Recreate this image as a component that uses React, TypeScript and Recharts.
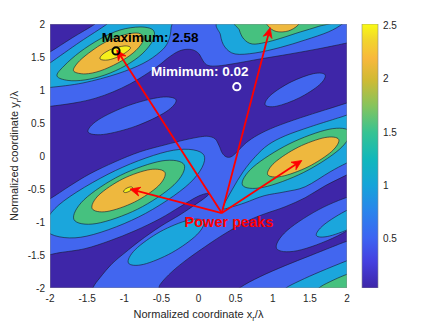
import React from "react";
import { ComposedChart, BarChart, Bar, Scatter, XAxis, YAxis } from "recharts";

type Pair = [number, number];

const font = '"Liberation Sans", Arial, Helvetica, sans-serif';

const axisTicks = [-2, -1.5, -1, -0.5, 0, 0.5, 1, 1.5, 2];
const colorTicks = [0.5, 1, 1.5, 2, 2.5];
const colorRange: Pair = [0.04, 2.51];

const levelFill = {
  floor: "#3e26a8",
  half: "#4266ef",
  one: "#1ba6dc",
  oneHalf: "#46c17f",
  two: "#eeb83e",
  twoHalf: "#f6ef1c",
};

const parulaStops: Pair[] = [
  [0, 0], [0.1, 1], [0.19, 2], [0.29, 3], [0.39, 4], [0.49, 5],
  [0.59, 6], [0.69, 7], [0.79, 8], [0.87, 9], [0.94, 10], [1, 11],
];
const parulaColors = [
  "#3e26a8", "#4640e0", "#3d64f2", "#2a84ec", "#15a4d9", "#11b8bb",
  "#38c392", "#86c45d", "#d1ba34", "#f8b83c", "#f2d52c", "#f9fa14",
];

// contour outlines (normalized coordinates x, y)
const frame: Pair[] = [[-2, -2], [2, -2], [2, 2], [-2, 2]];

// level 0.5
const halfTop: Pair[] = [
  [-2.202, 1.455], [-2, 1.576], [-1.704, 1.788], [-1.394, 2], [-1.259, 2.136], [2.178, 2.136],
  [2.178, 1.758], [2.003, 1.713], [1.639, 1.629], [1.235, 1.546], [0.83, 1.47], [0.493, 1.402],
  [0.264, 1.365], [0.129, 1.372], [0.062, 1.44], [0.008, 1.546], [-0.073, 1.607], [-0.181, 1.614],
  [-0.288, 1.576], [-0.41, 1.486], [-0.544, 1.365], [-0.72, 1.228], [-0.922, 1.092], [-1.151, 0.971],
  [-1.394, 0.873], [-1.663, 0.805], [-2, 0.752], [-2.202, 0.729],
];
const halfCenter: Pair[] = [
  [-2.202, -0.753], [-2, -0.648], [-1.73, -0.451], [-1.461, -0.269], [-1.124, -0.088], [-0.787, 0.064],
  [-0.45, 0.169], [-0.181, 0.245], [0.022, 0.29], [0.129, 0.298], [0.224, 0.26], [0.278, 0.154],
  [0.318, 0.048], [0.372, -0.012], [0.439, -0.012], [0.52, 0.064], [0.642, 0.2], [0.803, 0.321],
  [1.032, 0.442], [1.369, 0.578], [1.706, 0.699], [2.003, 0.805], [2.313, 0.926], [2.447, 0.699],
  [2.447, -0.057], [2.245, -0.148], [2.003, -0.284], [1.706, -0.451], [1.437, -0.632], [1.167, -0.769],
  [0.898, -0.874], [0.695, -0.965], [0.493, -1.086], [0.291, -1.222], [0.089, -1.374], [-0.14, -1.555],
  [-0.356, -1.752], [-0.518, -1.949], [-0.625, -2.176], [-1.461, -2.176], [-1.42, -1.994], [-1.326, -1.843],
  [-1.164, -1.631], [-0.989, -1.464], [-0.787, -1.283], [-0.518, -1.071], [-0.248, -0.89], [-0.046, -0.738],
  [0.089, -0.632], [0.143, -0.564], [-0.005, -0.61], [-0.248, -0.769], [-0.518, -0.95], [-0.854, -1.132],
  [-1.191, -1.283], [-1.528, -1.404], [-1.865, -1.464], [-2, -1.495], [-2.202, -1.54],
];
const halfIsleLeft: Pair[] = [
  [-0.302, 0.85], [-0.439, 0.669], [-0.844, 0.452], [-1.278, 0.327],
  [-1.488, 0.366], [-1.35, 0.548], [-0.946, 0.764], [-0.511, 0.89],
];
const halfIsleRight: Pair[] = [
  [1.706, 1.228], [1.627, 1.076], [1.356, 0.88], [1.054, 0.755],
  [0.898, 0.775], [0.977, 0.927], [1.248, 1.123], [1.55, 1.248],
];
const halfLowRight: Pair[] = [
  [2.498, -0.59], [2.354, -0.862], [1.87, -1.212], [1.33, -1.435],
  [1.051, -1.4], [1.194, -1.128], [1.678, -0.778], [2.217, -0.555],
];
const halfCorner: Pair[] = [
  [0.399, -2.176], [0.561, -1.994], [0.83, -1.828], [1.167, -1.661], [1.504, -1.51],
  [1.841, -1.359], [2.003, -1.29], [2.38, -1.147], [2.582, -2.327],
];

// level 1.0
const oneTopLeft: Pair[] = [
  [-2.202, 1.259], [-2, 1.41], [-1.596, 1.728], [-1.232, 2], [-1.057, 2.182], [-0.383, 2.182],
  [-0.369, 1.94], [-0.41, 1.728], [-0.518, 1.576], [-0.747, 1.402], [-1.097, 1.244], [-1.555, 1.107],
  [-2, 1.039], [-2.202, 1.032],
];
const oneTopRight: Pair[] = [
  [0.3, 2.061], [0.296, 1.834], [0.355, 1.652], [0.493, 1.546], [0.763, 1.561], [1.1, 1.644],
  [1.437, 1.758], [1.747, 1.879], [1.935, 2], [2.043, 2.136], [1.1, 2.242],
];
const oneMidLeft: Pair[] = [
  [0.075, 0.009], [-0.118, -0.411], [-0.806, -0.924], [-1.585, -1.231],
  [-2.05, -1.13], [-1.88, -0.74], [-1.118, -0.22], [-0.339, 0.087],
];
const oneMidRight: Pair[] = [
  [0.332, -0.784], [0.453, -0.511], [0.601, -0.239], [0.763, -0.012], [0.938, 0.169], [1.167, 0.306],
  [1.504, 0.442], [1.841, 0.563], [2.003, 0.623], [2.38, 0.79], [2.447, 0.472], [2.38, 0.094],
  [2.003, -0.103], [1.774, -0.239], [1.437, -0.466], [1.167, -0.542], [0.884, -0.602], [0.628, -0.708],
  [0.453, -0.769],
];
const oneLowLeft: Pair[] = [
  [0.07, -0.99], [-0.023, -1.195], [-0.359, -1.465], [-0.74, -1.642],
  [-0.944, -1.622], [-0.851, -1.417], [-0.516, -1.147], [-0.134, -0.971],
];
const oneLowRight: Pair[] = [
  [2.552, -0.665], [2.449, -0.83], [2.124, -1.057], [1.767, -1.212],
  [1.588, -1.205], [1.691, -1.04], [2.016, -0.813], [2.373, -0.658],
];
const oneCorner: Pair[] = [
  [1.032, -2.176], [1.167, -2.009], [1.369, -1.888], [1.639, -1.752],
  [2.003, -1.585], [2.38, -1.419], [2.582, -2.478],
];

// level 1.5
const oneHalfTopLeft: Pair[] = [
  [-1.906, 1.213], [-1.757, 1.145], [-1.528, 1.153], [-1.259, 1.228], [-0.989, 1.365], [-0.76, 1.546],
  [-0.612, 1.758], [-0.612, 1.909], [-0.787, 1.955], [-1.057, 1.909], [-1.326, 1.773], [-1.596, 1.576],
  [-1.811, 1.365],
];
const oneHalfTopRight: Pair[] = [
  [0.53, 2.061], [0.55, 1.909], [0.61, 1.773], [0.722, 1.697], [0.898, 1.72],
  [1.1, 1.781], [1.369, 1.879], [1.612, 1.962], [1.841, 2.061], [1.235, 2.242],
];
const oneHalfMidLeft: Pair[] = [
  [-0.193, -0.134], [-0.33, -0.437], [-0.821, -0.806], [-1.379, -1.024],
  [-1.677, -0.964], [-1.54, -0.661], [-1.049, -0.292], [-0.491, -0.074],
];
const oneHalfMidRight: Pair[] = [
  [2.039, 0.37], [1.895, 0.098], [1.411, -0.252], [0.871, -0.475],
  [0.592, -0.44], [0.735, -0.168], [1.219, 0.182], [1.758, 0.405],
];
const oneHalfCorner: Pair[] = [
  [1.504, -2.176], [1.612, -2.009], [1.774, -1.903], [2.003, -1.79], [2.38, -1.631], [2.582, -2.478],
];

// level 2.0
const twoTopLeft: Pair[] = [
  [-1.677, 1.281], [-1.528, 1.244], [-1.326, 1.289], [-1.084, 1.41], [-0.881, 1.561], [-0.76, 1.713],
  [-0.747, 1.818], [-0.841, 1.864], [-1.057, 1.818], [-1.299, 1.697], [-1.528, 1.516], [-1.65, 1.38],
];
const twoTopRight: Pair[] = [
  [0.898, 2.091], [0.938, 1.97], [1.046, 1.887], [1.208, 1.894], [1.342, 1.985], [1.396, 2.121], [1.14, 2.212],
];
const twoMidLeft: Pair[] = [
  [-0.452, -0.249], [-0.541, -0.454], [-0.864, -0.699], [-1.233, -0.841],
  [-1.432, -0.797], [-1.343, -0.592], [-1.02, -0.347], [-0.651, -0.205],
];
const twoMidRight: Pair[] = [
  [1.888, 0.252], [1.794, 0.069], [1.476, -0.164], [1.119, -0.309],
  [0.932, -0.282], [1.026, -0.099], [1.344, 0.134], [1.701, 0.279],
];

// level 2.5
const twoHalfTopLeft: Pair[] = [
  [-1.326, 1.47], [-1.218, 1.455], [-1.057, 1.516], [-0.935, 1.607],
  [-0.922, 1.652], [-1.003, 1.667], [-1.164, 1.622], [-1.286, 1.546],
];
const twoHalfMidLeft: Pair[] = [
  [-0.889, -0.477], [-0.898, -0.506], [-0.937, -0.538], [-0.983, -0.554],
  [-1.009, -0.545], [-1.0, -0.516], [-0.961, -0.484], [-0.915, -0.468],
];

const maximumAt: Pair = [-1.111, 1.592];
const minimumAt: Pair = [0.516, 1.051];
const peakSource: Pair = [0.314, -0.864];
const peakTargets: Pair[] = [[-1.101, 1.607], [0.965, 1.944], [-0.922, -0.501], [1.392, -0.068]];

const notes = [
  { text: "Maximum: 2.58", at: [-0.652, 1.788] as Pair, color: "#000000", size: 13.5 },
  { text: "Mimimum: 0.02", at: [0.017, 1.274] as Pair, color: "#ffffff", size: 13.5 },
  { text: "Power peaks", at: [0.41, -0.995] as Pair, color: "#ff0000", size: 14.5 },
];

const layers = [
  { key: "h-top", outline: halfTop, fill: levelFill.half },
  { key: "h-center", outline: halfCenter, fill: levelFill.half },
  { key: "h-isle-l", outline: halfIsleLeft, fill: levelFill.half },
  { key: "h-isle-r", outline: halfIsleRight, fill: levelFill.half },
  { key: "h-low-r", outline: halfLowRight, fill: levelFill.half },
  { key: "h-corner", outline: halfCorner, fill: levelFill.half },
  { key: "o-top-l", outline: oneTopLeft, fill: levelFill.one },
  { key: "o-top-r", outline: oneTopRight, fill: levelFill.one },
  { key: "o-mid-l", outline: oneMidLeft, fill: levelFill.one },
  { key: "o-mid-r", outline: oneMidRight, fill: levelFill.one },
  { key: "o-low-l", outline: oneLowLeft, fill: levelFill.one },
  { key: "o-low-r", outline: oneLowRight, fill: levelFill.one },
  { key: "o-corner", outline: oneCorner, fill: levelFill.one },
  { key: "oh-top-l", outline: oneHalfTopLeft, fill: levelFill.oneHalf },
  { key: "oh-top-r", outline: oneHalfTopRight, fill: levelFill.oneHalf },
  { key: "oh-mid-l", outline: oneHalfMidLeft, fill: levelFill.oneHalf },
  { key: "oh-mid-r", outline: oneHalfMidRight, fill: levelFill.oneHalf },
  { key: "oh-corner", outline: oneHalfCorner, fill: levelFill.oneHalf },
  { key: "t-top-l", outline: twoTopLeft, fill: levelFill.two },
  { key: "t-top-r", outline: twoTopRight, fill: levelFill.two },
  { key: "t-mid-l", outline: twoMidLeft, fill: levelFill.two },
  { key: "t-mid-r", outline: twoMidRight, fill: levelFill.two },
  { key: "th-top-l", outline: twoHalfTopLeft, fill: levelFill.twoHalf },
  { key: "th-mid-l", outline: twoHalfMidLeft, fill: levelFill.twoHalf },
];

const toPoints = (list: Pair[]) => list.map(([x, y]) => ({ x, y }));

type XY = { x: number; y: number };

function smoothClosed(pts: XY[]) {
  const n = pts.length;
  let d = `M${pts[0].x},${pts[0].y}`;
  for (let i = 0; i < n; i++) {
    const p0 = pts[(i - 1 + n) % n];
    const p1 = pts[i];
    const p2 = pts[(i + 1) % n];
    const p3 = pts[(i + 2) % n];
    const c1x = p1.x + (p2.x - p0.x) / 6;
    const c1y = p1.y + (p2.y - p0.y) / 6;
    const c2x = p2.x - (p3.x - p1.x) / 6;
    const c2y = p2.y - (p3.y - p1.y) / 6;
    d += ` C${c1x},${c1y} ${c2x},${c2y} ${p2.x},${p2.y}`;
  }
  return d + " Z";
}

function straightClosed(pts: XY[]) {
  return pts.map((p, i) => `${i ? "L" : "M"}${p.x},${p.y}`).join(" ") + " Z";
}

const region = (fill: string, stroke: string, smooth: boolean, width = 0.6) => (props: any) => (
  <path
    d={smooth ? smoothClosed(props.points) : straightClosed(props.points)}
    fill={fill}
    stroke={stroke}
    strokeWidth={width}
  />
);

const noMark = () => <g />;

function arrow(props: any) {
  const [a, b] = props.points as XY[];
  const dx = b.x - a.x;
  const dy = b.y - a.y;
  const len = Math.hypot(dx, dy);
  const ux = dx / len;
  const uy = dy / len;
  const nx = -uy;
  const ny = ux;
  const hx = b.x - ux * 10;
  const hy = b.y - uy * 10;
  const kx = b.x - ux * 7;
  const ky = b.y - uy * 7;
  return (
    <g>
      <line x1={a.x} y1={a.y} x2={kx} y2={ky} stroke="#ff0000" strokeWidth={1.8} />
      <path
        d={`M${b.x},${b.y} L${hx + nx * 4.5},${hy + ny * 4.5} L${kx},${ky} L${hx - nx * 4.5},${hy - ny * 4.5} Z`}
        fill="#ff0000"
        stroke="#ff0000"
        strokeWidth={0.8}
      />
    </g>
  );
}

const ring = (color: string) => (p: any) => (
  <circle cx={p.cx} cy={p.cy} r={3.6} fill="none" stroke={color} strokeWidth={2} />
);

const note = (text: string, color: string, size: number) => (p: any) => (
  <text
    x={p.cx}
    y={p.cy}
    textAnchor="middle"
    dominantBaseline="central"
    fill={color}
    fontSize={size}
    fontWeight="bold"
    fontFamily={font}
  >
    {text}
  </text>
);

const tickStyle = { fontSize: 10, fill: "#262626", fontFamily: font };

const xTitle = (props: any) => {
  const vb = props.viewBox;
  return (
    <text x={vb.x + vb.width / 2} y={vb.y + 30} textAnchor="middle" fontSize={11} fill="#262626" fontFamily={font}>
      Normalized coordinate x<tspan dy={3} fontSize={8}>r</tspan>
      <tspan dy={-3}>/λ</tspan>
    </text>
  );
};

const yTitle = (props: any) => {
  const vb = props.viewBox;
  const cx = vb.x + 7.5;
  const cy = vb.y + vb.height / 2;
  return (
    <text
      x={cx}
      y={cy}
      transform={`rotate(-90, ${cx}, ${cy})`}
      textAnchor="middle"
      fontSize={11}
      fill="#262626"
      fontFamily={font}
    >
      Normalized coordinate y<tspan dy={3} fontSize={8}>r</tspan>
      <tspan dy={-3}>/λ</tspan>
    </text>
  );
};

const colorbarData = [{ name: "scale", span: colorRange }];

export default function App() {
  return (
    <div style={{ position: "absolute", left: 0, top: 0, width: 436, height: 327, background: "#fff" }}>
      <svg width={0} height={0} style={{ position: "absolute" }}>
        <defs>
          <linearGradient id="parulaScale" x1="0" y1="1" x2="0" y2="0">
            {parulaStops.map(([o, i]) => (
              <stop key={o} offset={o} stopColor={parulaColors[i]} />
            ))}
          </linearGradient>
        </defs>
      </svg>
      <div style={{ position: "absolute", left: 0, top: 0 }}>
        <ComposedChart width={436} height={327} margin={{ top: 24, right: 89, bottom: 9, left: 10 }}>
          <XAxis
            type="number"
            dataKey="x"
            domain={[-2, 2]}
            ticks={axisTicks}
            allowDataOverflow
            interval={0}
            tickLine={false}
            axisLine={false}
            tickSize={0}
            tickMargin={7}
            height={30}
            tick={tickStyle}
            label={xTitle}
          />
          <YAxis
            type="number"
            dataKey="y"
            domain={[-2, 2]}
            ticks={axisTicks}
            allowDataOverflow
            interval={0}
            tickLine={false}
            axisLine={false}
            tickSize={0}
            tickMargin={5}
            width={40}
            tick={tickStyle}
            label={yTitle}
          />
          <Scatter
            data={toPoints(frame)}
            line={region(levelFill.floor, "none", false)}
            shape={noMark}
            isAnimationActive={false}
          />
          {layers.map((l) => (
            <Scatter
              key={l.key}
              data={toPoints(l.outline)}
              line={region(l.fill, "#17172a", true)}
              shape={noMark}
              isAnimationActive={false}
            />
          ))}
          <Scatter
            data={toPoints(frame)}
            line={region("none", "#8a8a8a", false, 0.8)}
            shape={noMark}
            isAnimationActive={false}
          />
          {peakTargets.map((t, i) => (
            <Scatter
              key={`arrow-${i}`}
              data={toPoints([peakSource, t])}
              line={arrow}
              shape={noMark}
              isAnimationActive={false}
            />
          ))}
          <Scatter data={toPoints([maximumAt])} shape={ring("#000000")} isAnimationActive={false} />
          <Scatter data={toPoints([minimumAt])} shape={ring("#ffffff")} isAnimationActive={false} />
          {notes.map((n) => (
            <Scatter
              key={n.text}
              data={toPoints([n.at])}
              shape={note(n.text, n.color, n.size)}
              isAnimationActive={false}
            />
          ))}
        </ComposedChart>
      </div>
      <div style={{ position: "absolute", left: 0, top: 0 }}>
        <BarChart
          width={436}
          height={327}
          data={colorbarData}
          margin={{ top: 24, right: 28, bottom: 39, left: 362 }}
          barCategoryGap={0}
        >
          <XAxis dataKey="name" hide />
          <YAxis
            orientation="right"
            type="number"
            domain={colorRange}
            ticks={colorTicks}
            allowDataOverflow
            interval={0}
            tickLine={false}
            axisLine={false}
            tickSize={0}
            tickMargin={5}
            width={30}
            tick={tickStyle}
          />
          <Bar dataKey="span" fill="url(#parulaScale)" stroke="#8a8a8a" strokeWidth={0.6} isAnimationActive={false} />
        </BarChart>
      </div>
    </div>
  );
}
